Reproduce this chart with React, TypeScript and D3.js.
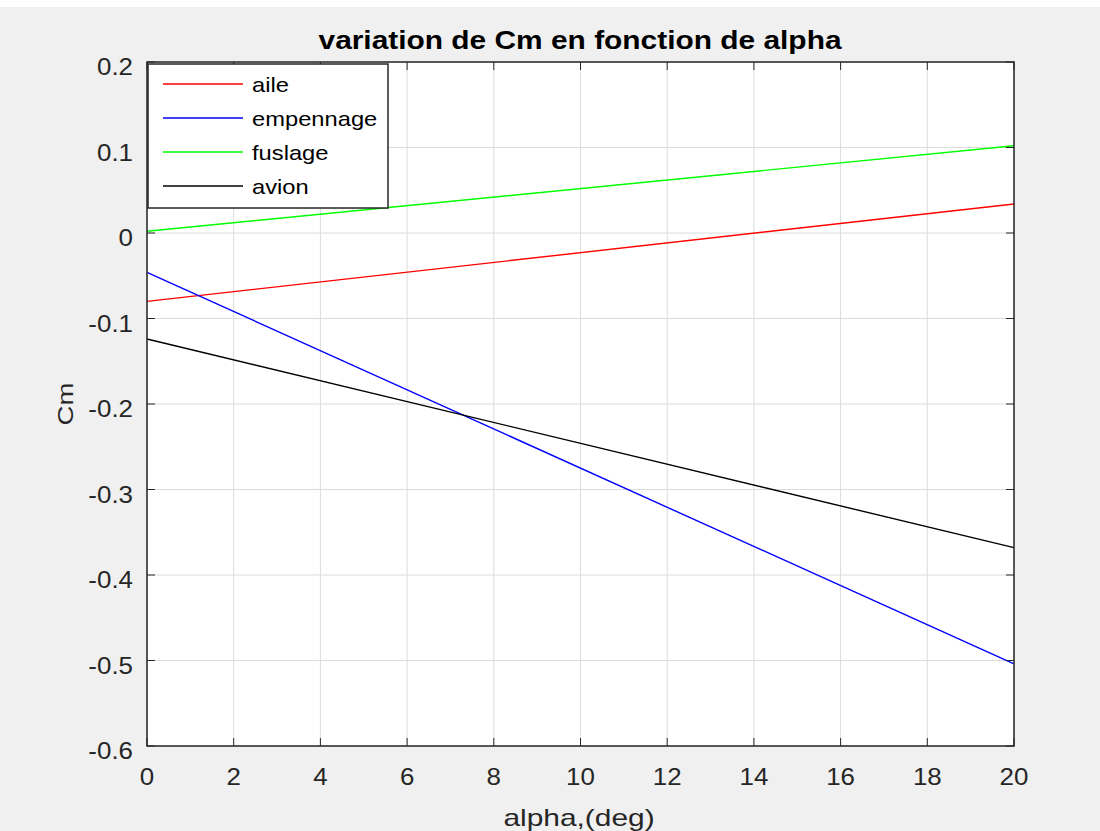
import React from "react";
import * as d3 from "d3";

// alpha end points (deg) and Cm values for each part
const alpha = [0, 20];
const aile = [-0.08, 0.034];
const empennage = [-0.046, -0.504];
const fuslage = [0.002, 0.102];
const avion = [-0.124, -0.368];

const seriesNames = ["aile", "empennage", "fuslage", "avion"];
const seriesColors = ["#ff0000", "#0000ff", "#00ff00", "#000000"];
const seriesValues = [aile, empennage, fuslage, avion];

const xTicks = [0, 2, 4, 6, 8, 10, 12, 14, 16, 18, 20];
const yTicks = [0.2, 0.1, 0, -0.1, -0.2, -0.3, -0.4, -0.5, -0.6];

const W = 1100;
const H = 831;
const left = 147;
const right = 1014;
const top = 62;
const bottom = 746;
const font = "'Liberation Sans', Arial, Helvetica, sans-serif";

// text stretched a bit wider, the reference font is broader than Arial
function Txt({ x, y, size, sx = 1, anchor = "start", rotate = 0, bold = false, fill = "#262626", children }: any) {
  return (
    <text
      transform={`translate(${x},${y}) rotate(${rotate}) scale(${sx},1)`}
      fontSize={size}
      textAnchor={anchor}
      fontWeight={bold ? "bold" : "normal"}
      fill={fill}
    >
      {children}
    </text>
  );
}

export default function App() {
  const x = d3.scaleLinear().domain([0, 20]).range([left, right]);
  const y = d3.scaleLinear().domain([-0.6, 0.2]).range([bottom, top]);

  const line = d3
    .line<number>()
    .x((d, i) => x(alpha[i]))
    .y(d => y(d));

  const fmt = (v: number) => (Math.abs(v) < 1e-9 ? "0" : String(+v.toFixed(1)));

  return (
    <svg
      width={W}
      height={H}
      style={{ position: "absolute", left: 0, top: 0 }}
      fontFamily={font}
    >
      <rect width={W} height={H} fill="#f0f0f0" />
      <rect width={W} height={7} fill="#ffffff" />
      <rect x={left} y={top} width={right - left} height={bottom - top} fill="#ffffff" />

      {/* grid */}
      {xTicks.map(t => (
        <line key={"gx" + t} x1={x(t)} x2={x(t)} y1={top} y2={bottom} stroke="#dcdcdc" strokeWidth={1} />
      ))}
      {yTicks.map(t => (
        <line key={"gy" + t} x1={left} x2={right} y1={y(t)} y2={y(t)} stroke="#dcdcdc" strokeWidth={1} />
      ))}

      {/* series */}
      {seriesValues.map((vals, i) => (
        <path key={seriesNames[i]} d={line(vals) || ""} fill="none" stroke={seriesColors[i]} strokeWidth={1.4} />
      ))}

      {/* box + ticks */}
      <rect x={left} y={top} width={right - left} height={bottom - top} fill="none" stroke="#262626" strokeWidth={1.5} />
      {xTicks.map(t => (
        <g key={"tx" + t}>
          <line x1={x(t)} x2={x(t)} y1={bottom} y2={bottom - 8} stroke="#262626" />
          <line x1={x(t)} x2={x(t)} y1={top} y2={top + 8} stroke="#262626" />
          <Txt x={x(t)} y={bottom + 39} size={24} sx={1.08} anchor="middle">
            {t}
          </Txt>
        </g>
      ))}
      {yTicks.map(t => (
        <g key={"ty" + t}>
          <line x1={left} x2={left + 8} y1={y(t)} y2={y(t)} stroke="#262626" />
          <line x1={right} x2={right - 8} y1={y(t)} y2={y(t)} stroke="#262626" />
          <Txt x={133} y={y(t) + 13} size={24} sx={1.08} anchor="end">
            {fmt(t)}
          </Txt>
        </g>
      ))}

      {/* title and axis labels */}
      <Txt x={580} y={49} size={26} sx={1.15} anchor="middle" bold fill="#000">
        variation de Cm en fonction de alpha
      </Txt>
      <Txt x={579} y={826} size={23} sx={1.3} anchor="middle">
        alpha,(deg)
      </Txt>
      <Txt x={73} y={404} size={22} sx={1.25} anchor="middle" rotate={-90}>
        Cm
      </Txt>

      {/* legend */}
      <rect x={148} y={64} width={240} height={144} fill="#ffffff" stroke="#262626" strokeWidth={1.5} />
      {seriesNames.map((n, i) => (
        <g key={"lg" + n}>
          <line x1={163} x2={243} y1={84 + i * 34} y2={84 + i * 34} stroke={seriesColors[i]} strokeWidth={1.4} />
          <Txt x={252} y={84 + i * 34 + 8} size={21} sx={1.13} fill="#000">
            {n}
          </Txt>
        </g>
      ))}
    </svg>
  );
}
